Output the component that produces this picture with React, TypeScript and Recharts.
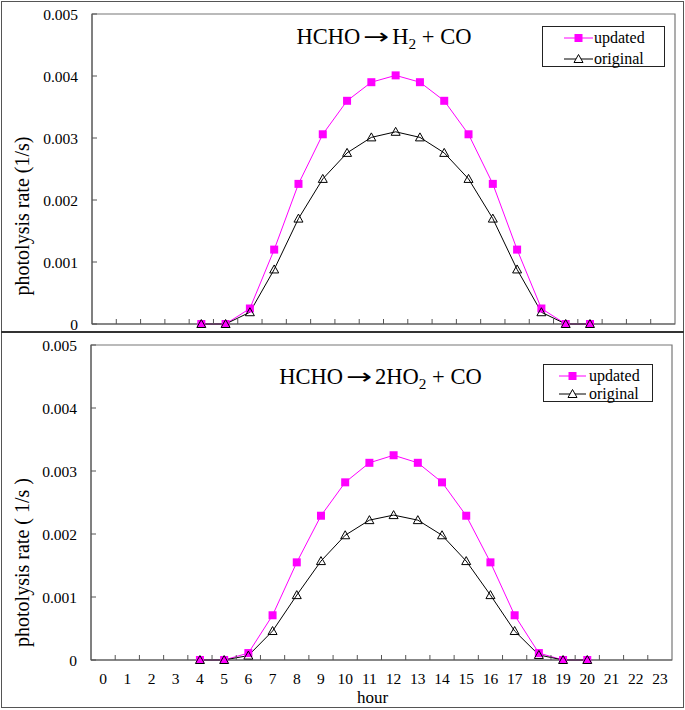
import React from 'react';
import { LineChart, Line, XAxis, YAxis, ReferenceArea, Legend } from 'recharts';

const hours = [4, 5, 6, 7, 8, 9, 10, 11, 12, 13, 14, 15, 16, 17, 18, 19, 20];

// HCHO -> H2 + CO
const h2Updated = [0, 0, 0.00025, 0.0012, 0.00226, 0.00306, 0.0036, 0.0039, 0.00401, 0.0039, 0.0036, 0.00306, 0.00226, 0.0012, 0.00025, 0, 0];
const h2Original = [0, 0, 0.00019, 0.00088, 0.0017, 0.00234, 0.00276, 0.00301, 0.0031, 0.00301, 0.00276, 0.00234, 0.0017, 0.00088, 0.00019, 0, 0];

// HCHO -> 2HO2 + CO
const ho2Updated = [0, 0, 0.00011, 0.00071, 0.00155, 0.00229, 0.00282, 0.00313, 0.00325, 0.00313, 0.00282, 0.00229, 0.00155, 0.00071, 0.00011, 0, 0];
const ho2Original = [0, 0, 0.00007, 0.00046, 0.00103, 0.00157, 0.00198, 0.00222, 0.0023, 0.00222, 0.00198, 0.00157, 0.00103, 0.00046, 0.00008, 0, 0];

const yTicks = [0, 0.001, 0.002, 0.003, 0.004, 0.005];
const hourLabels = [0, 1, 2, 3, 4, 5, 6, 7, 8, 9, 10, 11, 12, 13, 14, 15, 16, 17, 18, 19, 20, 21, 22, 23];
const hourTickMarks = [0.5, 1.5, 2.5, 3.5, 4.5, 5.5, 6.5, 7.5, 8.5, 9.5, 10.5, 11.5, 12.5, 13.5, 14.5, 15.5, 16.5, 17.5, 18.5, 19.5, 20.5, 21.5, 22.5];

const seriesNames = ['updated', 'original'];

const MAGENTA = '#FF00FF';
const FONT = '"Liberation Serif", "Times New Roman", serif';

const toRows = (upd: number[], orig: number[]) =>
  hours.map((h, i) => ({ hour: h, updated: upd[i], original: orig[i] }));

const Square = (props: any) => {
  const { cx, cy } = props;
  if (cx == null || cy == null) return <g />;
  return <rect x={cx - 4} y={cy - 4} width={8} height={8} fill={MAGENTA} />;
};

const Triangle = (props: any) => {
  const { cx, cy } = props;
  if (cx == null || cy == null) return <g />;
  return (
    <polygon
      points={`${cx},${cy - 4.5} ${cx + 4.5},${cy + 3.5} ${cx - 4.5},${cy + 3.5}`}
      fill="none"
      stroke="#000"
      strokeWidth={1}
    />
  );
};

const LegendBox = ({ w, h, rows, lineX, lineLen, textX }: any) => (
  <div style={{ position: 'relative', width: w, height: h, border: '1px solid #222', boxSizing: 'border-box', background: '#fff', fontFamily: FONT }}>
    {seriesNames.map((name, i) => (
      <div key={name} style={{ position: 'absolute', left: 0, top: rows[i] - 10, height: 20, width: w }}>
        <svg width={lineX + lineLen + 2} height={20} style={{ position: 'absolute', left: 0, top: 0 }}>
          <line x1={lineX} x2={lineX + lineLen} y1={10} y2={10} stroke={i === 0 ? MAGENTA : '#000'} strokeWidth={1} />
          {i === 0 ? (
            <rect x={lineX + lineLen / 2 - 4} y={6} width={8} height={8} fill={MAGENTA} />
          ) : (
            <polygon
              points={`${lineX + lineLen / 2},${5.5} ${lineX + lineLen / 2 + 4.5},${13.5} ${lineX + lineLen / 2 - 4.5},${13.5}`}
              fill="#fff"
              stroke="#000"
            />
          )}
        </svg>
        <span style={{ position: 'absolute', left: textX, top: 0, lineHeight: '20px', fontSize: 16, color: '#000', fontFamily: FONT }}>{name}</span>
      </div>
    ))}
  </div>
);

const Arrow = () => (
  <span style={{ fontFamily: '"DejaVu Sans"', display: 'inline-block', transform: 'scaleX(1.45)', margin: '0 7px', fontSize: '0.95em' }}>→</span>
);

const Panel = ({ top, height, margin, rows, title, titleTop, titleCenter, legend, yLabel, yLabelShift, showHours }: any) => (
  <div style={{ position: 'absolute', left: 0, top, width: 685, height }}>
    <LineChart width={685} height={height} data={rows} margin={margin} style={{ fontFamily: FONT }}>
      <XAxis
        xAxisId="a"
        type="number"
        dataKey="hour"
        domain={[-0.5, 23.5]}
        ticks={hourTickMarks}
        interval={0}
        tickFormatter={() => ''}
        tickSize={-5}
        height={1}
        stroke="#555"
      />
      {showHours && (
        <XAxis
          xAxisId="b"
          type="number"
          dataKey="hour"
          domain={[-0.5, 23.5]}
          ticks={hourLabels}
          interval={0}
          axisLine={false}
          tickLine={false}
          tickSize={0}
          tickMargin={12}
          height={44}
          tick={{ fill: '#000', fontSize: 15.5, fontFamily: FONT }}
          label={{ value: 'hour', position: 'insideBottom', offset: 2, fill: '#000', fontSize: 17, dx: -9, fontFamily: FONT }}
        />
      )}
      <YAxis
        type="number"
        domain={[0, 0.005]}
        ticks={yTicks}
        interval={0}
        width={60}
        tickSize={-5}
        tickMargin={19}
        stroke="#555"
        tick={{ fill: '#000', fontSize: 15.5, fontFamily: FONT }}
        tickFormatter={(v: number) => (v === 0 ? '0' : v.toFixed(3))}
        label={{
          content: (p: any) => {
            const vb = p.viewBox || {};
            const cy = vb.y + vb.height / 2 + yLabelShift;
            return (
              <text x={28.5} y={cy} transform={`rotate(-90, 28.5, ${cy})`} textAnchor="middle" fontSize={20} fill="#000" style={{ fontFamily: FONT }}>
                {yLabel}
              </text>
            );
          },
        }}
      />
      <ReferenceArea xAxisId="a" x1={-0.5} x2={23.5} y1={0} y2={0.005} fill="none" stroke="#777" strokeWidth={1.2} />
      <Legend
        layout="vertical"
        align="center"
        verticalAlign="middle"
        wrapperStyle={{ left: legend.left, top: legend.top, width: legend.w }}
        content={() => <LegendBox {...legend} />}
      />
      <Line xAxisId="a" dataKey="updated" stroke={MAGENTA} strokeWidth={1} dot={<Square />} activeDot={false} isAnimationActive={false} />
      <Line xAxisId="a" dataKey="original" stroke="#000" strokeWidth={1} dot={<Triangle />} activeDot={false} isAnimationActive={false} />
    </LineChart>
    <div style={{ position: 'absolute', left: titleCenter - 150, top: titleTop, width: 300, textAlign: 'center', fontSize: 22.5, lineHeight: 1, color: '#000', whiteSpace: 'nowrap', fontFamily: FONT }}>
      {title}
    </div>
  </div>
);

const Sub = ({ children }: any) => (
  <span style={{ fontSize: '0.68em', position: 'relative', top: '0.3em' }}>{children}</span>
);

export default function App() {
  return (
    <div style={{ position: 'absolute', left: 0, top: 0, width: 685, height: 710, background: '#fff', fontFamily: FONT }}>
      <Panel
        top={0}
        height={332}
        margin={{ top: 14, right: 10, left: 32, bottom: 7 }}
        rows={toRows(h2Updated, h2Original)}
        title={<>HCHO<Arrow />H<Sub>2</Sub> + CO</>}
        titleTop={26}
        titleCenter={384}
        legend={{ left: 542, top: 26, w: 123, h: 41, rows: [11, 32], lineX: 21, lineLen: 29, textX: 51 }}
        yLabel="photolysis rate (1/s)"
        yLabelShift={47}
        showHours={false}
      />
      <Panel
        top={332}
        height={378}
        margin={{ top: 13, right: 13, left: 31, bottom: 5 }}
        rows={toRows(ho2Updated, ho2Original)}
        title={<>HCHO<Arrow />2HO<Sub>2</Sub> + CO</>}
        titleTop={34}
        titleCenter={380.5}
        legend={{ left: 543, top: 32, w: 110, h: 38, rows: [11, 29], lineX: 15, lineLen: 27, textX: 45 }}
        yLabel="photolysis rate ( 1/s )"
        yLabelShift={60}
        showHours={true}
      />
      <div style={{ position: 'absolute', left: 1, top: 1, width: 683, height: 707, border: '1.5px solid #555', boxSizing: 'border-box', pointerEvents: 'none' }} />
      <div style={{ position: 'absolute', left: 1, top: 331, width: 683, height: 2, background: '#333' }} />
    </div>
  );
}
